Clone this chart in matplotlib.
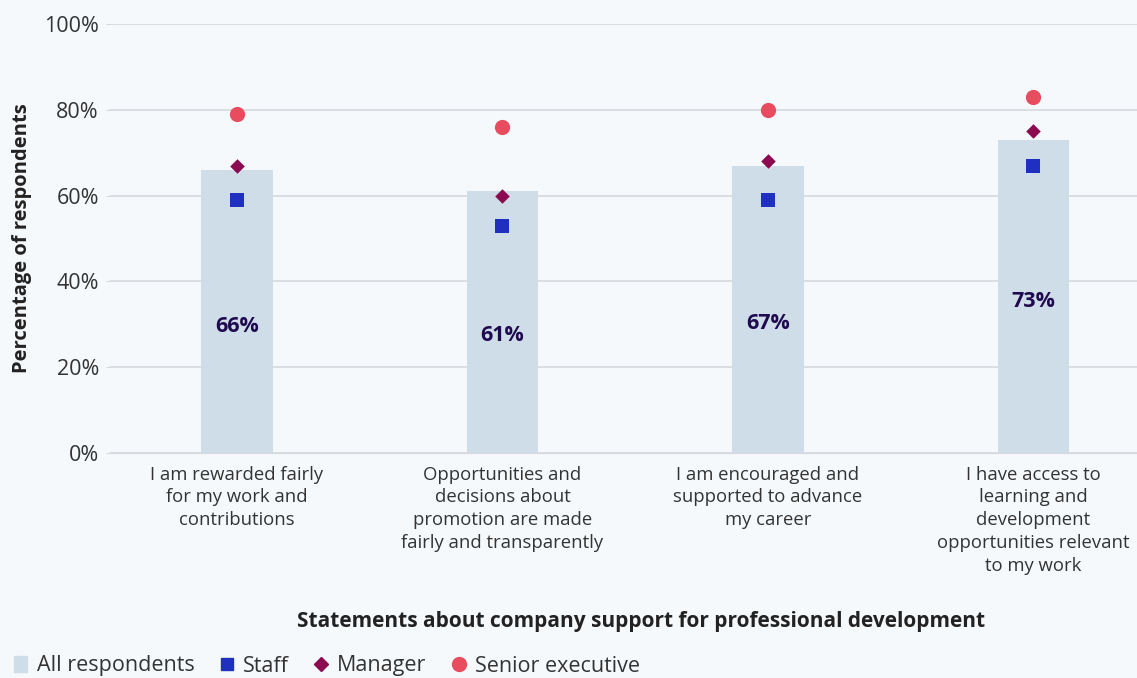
import matplotlib.pyplot as plt
from matplotlib.lines import Line2D
from matplotlib.patches import Patch

plt.rcParams['font.family'] = ['Open Sans', 'DejaVu Sans']

# Data
categories = [
    'I am rewarded fairly\nfor my work and\ncontributions',
    'Opportunities and\ndecisions about\npromotion are made\nfairly and transparently',
    'I am encouraged and\nsupported to advance\nmy career',
    'I have access to\nlearning and\ndevelopment\nopportunities relevant\nto my work',
]
all_resp = [66, 61, 67, 73]
staff = [59, 53, 59, 67]
manager = [67, 60, 68, 75]
senior = [79, 76, 80, 83]
label_y = [29.5, 27.5, 30.3, 35.4]

bg = '#f5f9fc'
bar_col = '#cfdde9'
staff_col = '#1f2fbf'
mgr_col = '#8b0a50'
sen_col = '#e84c5f'
text_col = '#333333'

fig = plt.figure(figsize=(11.37, 6.78), dpi=100, facecolor=bg)
ax = fig.add_axes([110 / 1137, 1 - 453 / 678, 1027 / 1137, 429 / 678])
ax.set_facecolor(bg)

x = list(range(len(categories)))
ax.bar(x, all_resp, width=0.27, color=bar_col, zorder=2)
ax.scatter(x, staff, marker='s', s=90, color=staff_col, linewidths=0, zorder=4)
ax.scatter(x, manager, marker='D', s=55, color=mgr_col, linewidths=0, zorder=4)
ax.scatter(x, senior, marker='o', s=120, color=sen_col, linewidths=0, zorder=4)

for xi, v, ly in zip(x, all_resp, label_y):
    ax.text(xi, ly, f'{v}%', ha='center', va='center', fontsize=15.5,
            fontweight='bold', color='#1f0a4f', zorder=5)

ax.set_xlim(-0.478, 3.39)
ax.set_ylim(0, 100)
ax.set_yticks([0, 20, 40, 60, 80, 100])
ax.set_yticklabels([f'{t}%' for t in [0, 20, 40, 60, 80, 100]])
ax.yaxis.grid(True, color='#d5d9de', linewidth=1.2, zorder=0)
ax.tick_params(axis='y', length=3, color='#d5d9de', labelsize=15.5,
               labelcolor=text_col, pad=5)
ax.set_xticks(x)
ax.set_xticklabels(categories, fontsize=13.3, color=text_col, linespacing=1.35)
ax.tick_params(axis='x', length=0, pad=9)
for s in ax.spines.values():
    s.set_visible(False)
ax.spines['bottom'].set_visible(True)
ax.spines['bottom'].set_color('#d5d9de')

ax.set_ylabel('Percentage of respondents', fontsize=14.5, fontweight='bold',
              color='#222222', labelpad=9)
fig.text(641 / 1137, 1 - 621 / 678, 'Statements about company support for professional development',
         ha='center', va='center', fontsize=15, fontweight='bold', color='#222222')

handles = [
    Patch(color=bar_col, label='All respondents'),
    Line2D([], [], marker='s', linestyle='', color=staff_col, markersize=9, label='Staff'),
    Line2D([], [], marker='D', linestyle='', color=mgr_col, markersize=7, label='Manager'),
    Line2D([], [], marker='o', linestyle='', color=sen_col, markersize=10, label='Senior executive'),
]
fig.legend(handles=handles, loc='center left', bbox_to_anchor=(-0.0045, 1 - 666 / 678),
           ncol=4, frameon=False, fontsize=15.5, handlelength=0.6, handletextpad=0.45,
           columnspacing=1.2, labelcolor=text_col)

fig.savefig('out.png', dpi=100, facecolor=bg)
